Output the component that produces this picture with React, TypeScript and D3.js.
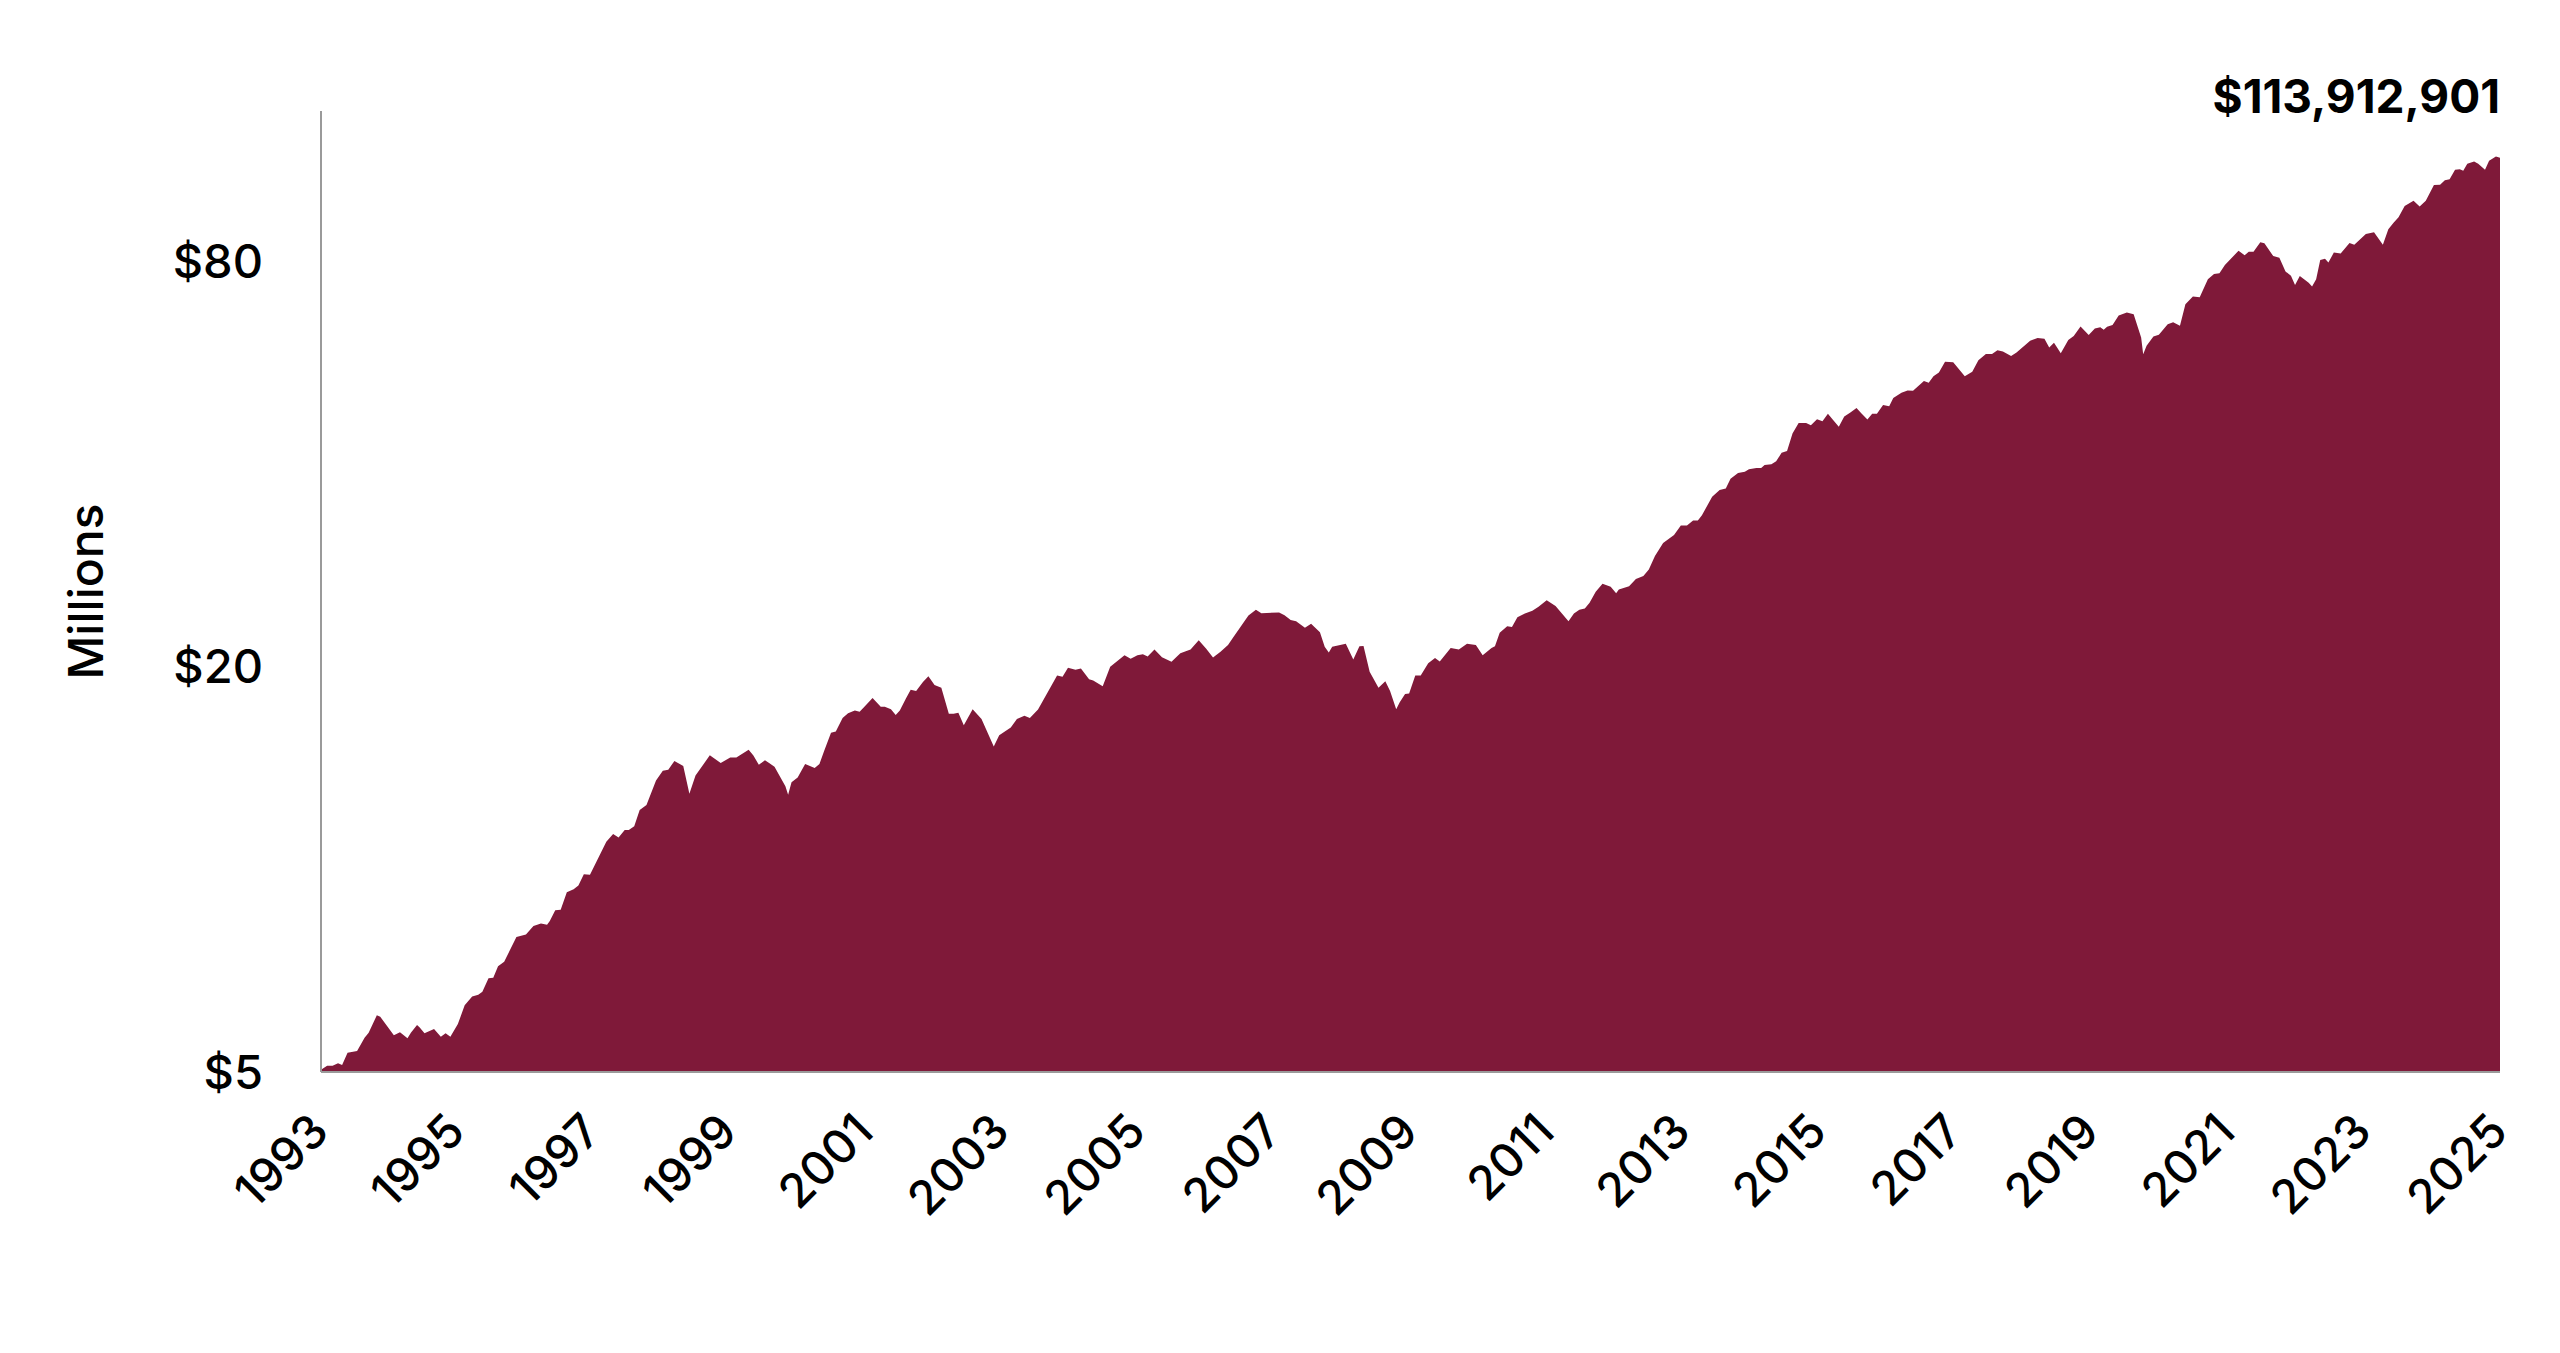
import * as d3 from "d3";

// growth of the portfolio, fractional year -> value in $ millions (log scale)
const years = [
  1993.0, 1993.09, 1993.17, 1993.25, 1993.31, 1993.39, 1993.53, 1993.64, 1993.7, 1993.82, 1993.87,
  1994.07, 1994.16, 1994.27, 1994.32, 1994.41, 1994.45, 1994.52, 1994.66, 1994.76, 1994.83, 1994.9,
  1995.01, 1995.11, 1995.22, 1995.31, 1995.37, 1995.46, 1995.53, 1995.6, 1995.69, 1995.87,
  1996.01, 1996.12, 1996.23, 1996.32, 1996.36, 1996.44, 1996.52, 1996.61, 1996.71, 1996.78, 1996.86, 1996.95,
  1997.19, 1997.29, 1997.37, 1997.46, 1997.52, 1997.6, 1997.68, 1997.78, 1997.92,
  1998.02, 1998.1, 1998.19, 1998.32, 1998.41, 1998.5, 1998.71, 1998.87,
  1999.01, 1999.1, 1999.28, 1999.35, 1999.43, 1999.52, 1999.66, 1999.82, 1999.86, 1999.91,
  2000.0, 2000.11, 2000.25, 2000.32, 2000.39, 2000.49, 2000.56, 2000.66, 2000.74, 2000.84, 2000.91, 2000.98,
  2001.1, 2001.22, 2001.28, 2001.37, 2001.44, 2001.5, 2001.59, 2001.66, 2001.74, 2001.84, 2001.92,
  2002.01, 2002.11, 2002.22, 2002.29, 2002.36, 2002.44, 2002.57, 2002.7, 2002.88, 2002.96,
  2003.13, 2003.22, 2003.33, 2003.41, 2003.53, 2003.81, 2003.89, 2003.97,
  2004.08, 2004.16, 2004.28, 2004.34, 2004.48, 2004.59, 2004.8, 2004.89, 2004.99,
  2005.07, 2005.14, 2005.24, 2005.35, 2005.49, 2005.62, 2005.77, 2005.89,
  2006.0, 2006.1, 2006.21, 2006.32, 2006.39, 2006.5, 2006.62, 2006.73, 2006.81,
  2007.07, 2007.15, 2007.24, 2007.32, 2007.45, 2007.54, 2007.67, 2007.74, 2007.8, 2007.85,
  2008.05, 2008.16, 2008.25, 2008.31, 2008.4, 2008.53, 2008.63, 2008.7, 2008.79, 2008.84, 2008.92, 2008.98,
  2009.07, 2009.15, 2009.26, 2009.36, 2009.43, 2009.59, 2009.71, 2009.83, 2009.96,
  2010.06, 2010.19, 2010.24, 2010.31, 2010.42, 2010.49, 2010.57, 2010.68, 2010.79, 2010.88,
  2011.0, 2011.13, 2011.32, 2011.4, 2011.48, 2011.56, 2011.63, 2011.72, 2011.82, 2011.94,
  2012.02, 2012.06, 2012.21, 2012.31, 2012.42, 2012.5, 2012.59, 2012.71, 2012.87, 2012.97,
  2013.06, 2013.15, 2013.22, 2013.28, 2013.43, 2013.54, 2013.63, 2013.7, 2013.81, 2013.91, 2013.97,
  2014.08, 2014.15, 2014.2, 2014.3, 2014.37, 2014.45, 2014.53, 2014.61, 2014.7, 2014.81, 2014.88, 2014.97,
  2015.05, 2015.13, 2015.2, 2015.29, 2015.37, 2015.46, 2015.55, 2015.62, 2015.71, 2015.78, 2015.85, 2015.94,
  2016.03, 2016.09, 2016.21, 2016.3, 2016.38, 2016.54, 2016.61, 2016.68, 2016.76, 2016.85, 2016.97,
  2017.14, 2017.25, 2017.34, 2017.45, 2017.54, 2017.62, 2017.7, 2017.82, 2017.9,
  2018.1, 2018.21, 2018.31, 2018.38, 2018.45, 2018.55, 2018.66, 2018.74, 2018.84, 2018.96,
  2019.05, 2019.13, 2019.18, 2019.23, 2019.31, 2019.4, 2019.52, 2019.62, 2019.73, 2019.76, 2019.81, 2019.91, 2019.99,
  2020.12, 2020.2, 2020.3, 2020.38, 2020.49, 2020.59, 2020.71, 2020.8, 2020.88, 2020.96,
  2021.16, 2021.25, 2021.31, 2021.38, 2021.48, 2021.54, 2021.67, 2021.76, 2021.85, 2021.93, 2021.99,
  2022.06, 2022.19, 2022.24, 2022.3, 2022.36, 2022.43, 2022.48, 2022.56, 2022.66, 2022.79, 2022.86,
  2023.03, 2023.15, 2023.28, 2023.36, 2023.44, 2023.51, 2023.6, 2023.73, 2023.82, 2023.91,
  2024.03, 2024.12, 2024.19, 2024.26, 2024.34, 2024.41, 2024.46, 2024.52, 2024.62, 2024.68, 2024.78, 2024.84, 2024.94,
  2025.0,
];

const values = [
  5.04, 5.11, 5.11, 5.15, 5.12, 5.34, 5.37, 5.62, 5.72, 6.07, 6.04,
  5.67, 5.73, 5.61, 5.72, 5.87, 5.82, 5.71, 5.79, 5.64, 5.71, 5.64,
  5.89, 6.28, 6.47, 6.51, 6.58, 6.89, 6.9, 7.18, 7.29, 7.93,
  8.0, 8.24, 8.31, 8.27, 8.38, 8.69, 8.71, 9.24, 9.34, 9.46, 9.83, 9.81,
  10.99, 11.28, 11.15, 11.44, 11.44, 11.58, 12.25, 12.46, 13.54,
  14.0, 14.05, 14.48, 14.23, 12.94, 13.78, 14.76, 14.38,
  14.65, 14.65, 15.04, 14.75, 14.29, 14.52, 14.2, 13.28, 12.9, 13.46,
  13.68, 14.33, 14.14, 14.33, 15.0, 15.95, 16.02, 16.77, 17.05, 17.21, 17.14, 17.43,
  17.96, 17.43, 17.43, 17.28, 16.94, 17.21, 17.93, 18.47, 18.4, 18.97, 19.34,
  18.77, 18.6, 17.01, 17.01, 17.08, 16.36, 17.28, 16.72, 15.22, 15.81,
  16.23, 16.72, 16.9, 16.77, 17.26, 19.39, 19.31, 19.91,
  19.78, 19.86, 19.14, 19.07, 18.69, 19.98, 20.78, 20.54, 20.78,
  20.86, 20.7, 21.19, 20.65, 20.33, 20.92, 21.19, 21.87,
  21.25, 20.62, 21.03, 21.53, 22.04, 22.87, 23.81, 24.28, 24.0,
  24.05, 23.84, 23.44, 23.35, 22.84, 23.14, 22.48, 21.39, 20.98, 21.39,
  21.62, 20.49, 21.44, 21.46, 19.64, 18.6, 19.02, 18.4, 17.28, 17.69, 18.21, 18.23,
  19.39, 19.39, 20.22, 20.59, 20.35, 21.3, 21.19, 21.62, 21.53,
  20.78, 21.3, 21.44, 22.45, 22.95, 22.9, 23.66, 23.97, 24.19, 24.54,
  25.09, 24.6, 23.35, 23.97, 24.28, 24.38, 24.87, 25.83, 26.54, 26.27,
  25.7, 26.03, 26.32, 26.97, 27.25, 27.86, 29.17, 30.5, 31.34, 32.38,
  32.38, 32.94, 32.94, 33.55, 35.72, 36.58, 36.77, 37.99, 38.74, 38.92, 39.25,
  39.41, 39.41, 39.82, 39.93, 40.35, 41.52, 41.79, 44.34, 45.99, 45.99, 45.63, 46.59,
  46.24, 47.45, 46.53, 45.38, 47.02, 47.64, 48.39, 47.52, 46.53, 47.45, 47.45, 48.9,
  48.71, 50.07, 51.0, 51.4, 51.33, 53.1, 52.76, 53.94, 54.65, 56.69, 56.61,
  53.94, 54.79, 57.0, 58.19, 58.19, 58.96, 58.73, 57.82, 58.5,
  60.92, 61.48, 61.33, 59.5, 60.52, 58.35, 61.08, 61.89, 63.95, 62.13,
  63.53, 63.78, 63.26, 63.89, 64.28, 66.42, 67.08, 66.67, 61.58, 58.14, 59.88, 61.8, 62.18,
  64.43, 64.9, 64.11, 68.99, 70.86, 70.7, 75.15, 76.54, 76.7, 78.91,
  82.85, 81.56, 82.55, 82.55, 85.31, 85.0, 81.35, 80.86, 77.19, 76.07, 73.69,
  76.0, 74.24, 73.33, 75.15, 80.27, 80.6, 79.57, 82.35, 82.1, 85.1, 84.6,
  87.74, 88.28, 84.6, 89.15, 91.24, 92.93, 96.52, 98.3, 96.4, 98.3,
  103.7, 103.8, 105.4, 105.8, 109.3, 109.5, 108.9, 111.6, 112.4, 111.6, 109.3, 112.7, 114.4,
  113.9,
];

const yTicks = [5, 20, 80];
const xTicks = d3.range(1993, 2026, 2);
const endLabel = "$113,912,901";
const yTitle = "Millions";

const W = 2560;
const H = 1353;
const FONT = "Inter, 'Noto Sans', sans-serif";
const FILL = "#7f1939";

export default function App() {
  const data = years.map((year, i) => ({ year, value: values[i] }));

  const x = d3.scaleLinear().domain([1993, 2025]).range([321, 2500]);
  const y = d3.scaleLog().domain([5, 80]).range([1072, 261]);
  const axisTop = 111;

  const area = d3
    .area<{ year: number; value: number }>()
    .x((d) => x(d.year))
    .y0(y(5))
    .y1((d) => y(d.value))
    .curve(d3.curveLinear);

  const fmt = (v: number) => `$${v}`;

  return (
    <svg
      width={W}
      height={H}
      viewBox={`0 0 ${W} ${H}`}
      style={{ position: "absolute", left: 0, top: 0, display: "block", background: "#fff" }}
      fontFamily={FONT}
    >
      <path d={area(data) ?? undefined} fill={FILL} />

      {/* axes */}
      <line x1={x(1993)} x2={x(1993)} y1={axisTop} y2={y(5)} stroke="#9a9a9a" strokeWidth={2} />
      <line x1={x(1993)} x2={x(2025)} y1={y(5)} y2={y(5)} stroke="#9a9a9a" strokeWidth={2} />

      {yTicks.map((t) => (
        <text key={t} x={263} y={y(t)} dy="0.36em" textAnchor="end" fontSize={47} fontWeight={500} fill="#000">
          {fmt(t)}
        </text>
      ))}

      {xTicks.map((t) => (
        <text
          key={t}
          transform={`translate(${x(t) + 10},${y(5) + 62}) rotate(-45)`}
          textAnchor="end"
          fontSize={47}
          fontWeight={500}
          fill="#000"
        >
          {t}
        </text>
      ))}

      <text
        transform={`translate(86,${(y(5) + axisTop) / 2}) rotate(-90)`}
        textAnchor="middle"
        dy="0.36em"
        fontSize={48}
        fontWeight={500}
        fill="#000"
      >
        {yTitle}
      </text>

      <text x={x(2025)} y={113} textAnchor="end" fontSize={46} fontWeight={700} fill="#000">
        {endLabel}
      </text>
    </svg>
  );
}
